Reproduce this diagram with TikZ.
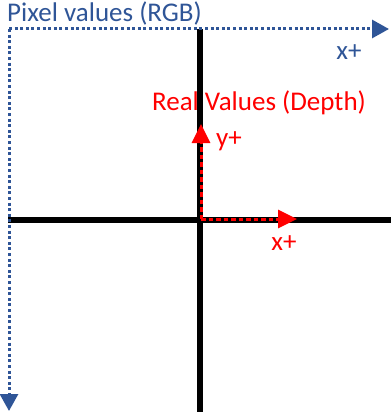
\documentclass[tikz,border=0pt]{standalone}
\usepackage{fontspec}
\setmainfont{Carlito}
\usetikzlibrary{arrows.meta,positioning}
\definecolor{pxblue}{RGB}{47,85,151}
\tikzset{
  axis/.style={line width=5.5pt,black},
  pxaxis/.style={pxblue,line width=3pt,
    dash pattern=on 3pt off 2.6pt,-{Triangle[length=17pt,width=18pt]}},
  rlaxis/.style={red,line width=3pt,
    dash pattern=on 4.5pt off 3pt,-{Triangle[length=19pt,width=18pt]}},
  pxlbl/.style={text=pxblue,font=\fontsize{27}{31}\selectfont,inner sep=0pt},
  rllbl/.style={text=red,font=\fontsize{27}{31}\selectfont,inner sep=0pt},
}
\begin{document}
\begin{tikzpicture}[x=1pt,y=-1pt]
  \useasboundingbox (0,0) rectangle (391,417);
  % black axes
  \coordinate (hl) at (8,220);
  \coordinate (hr) at (391,220);
  \coordinate (vt) at (200,29);
  \coordinate (vb) at (200,412);
  \draw[axis] (hl) -- (hr);
  \draw[axis] (vt) -- (vb);
  % pixel frame
  \coordinate (pxo) at (9,29);
  \coordinate (pxx) at (389,29);
  \coordinate (pxy) at (9,411);
  \draw[pxaxis] (pxo) -- (pxx);
  \draw[pxaxis] (pxo) -- (pxy);
  \node[pxlbl,anchor=base west] (pxtitle) at (7,22) {Pixel values (RGB)};
  \node[pxlbl] (pxxlbl) at (349,52) {x+};
  % real frame
  \coordinate (rlo) at (201,219);
  \coordinate (rlx) at (297,219);
  \coordinate (rly) at (201,124);
  \draw[rlaxis] (rlo) -- (rlx);
  \draw[rlaxis] (rlo) -- (rly);
  \node[rllbl] (rltitle) at (259,103) {Real Values (Depth)};
  \node[rllbl] (rlylbl) at (229,141) {y+};
  \node[rllbl] (rlxlbl) at (284,243) {x+};
\end{tikzpicture}
\end{document}
